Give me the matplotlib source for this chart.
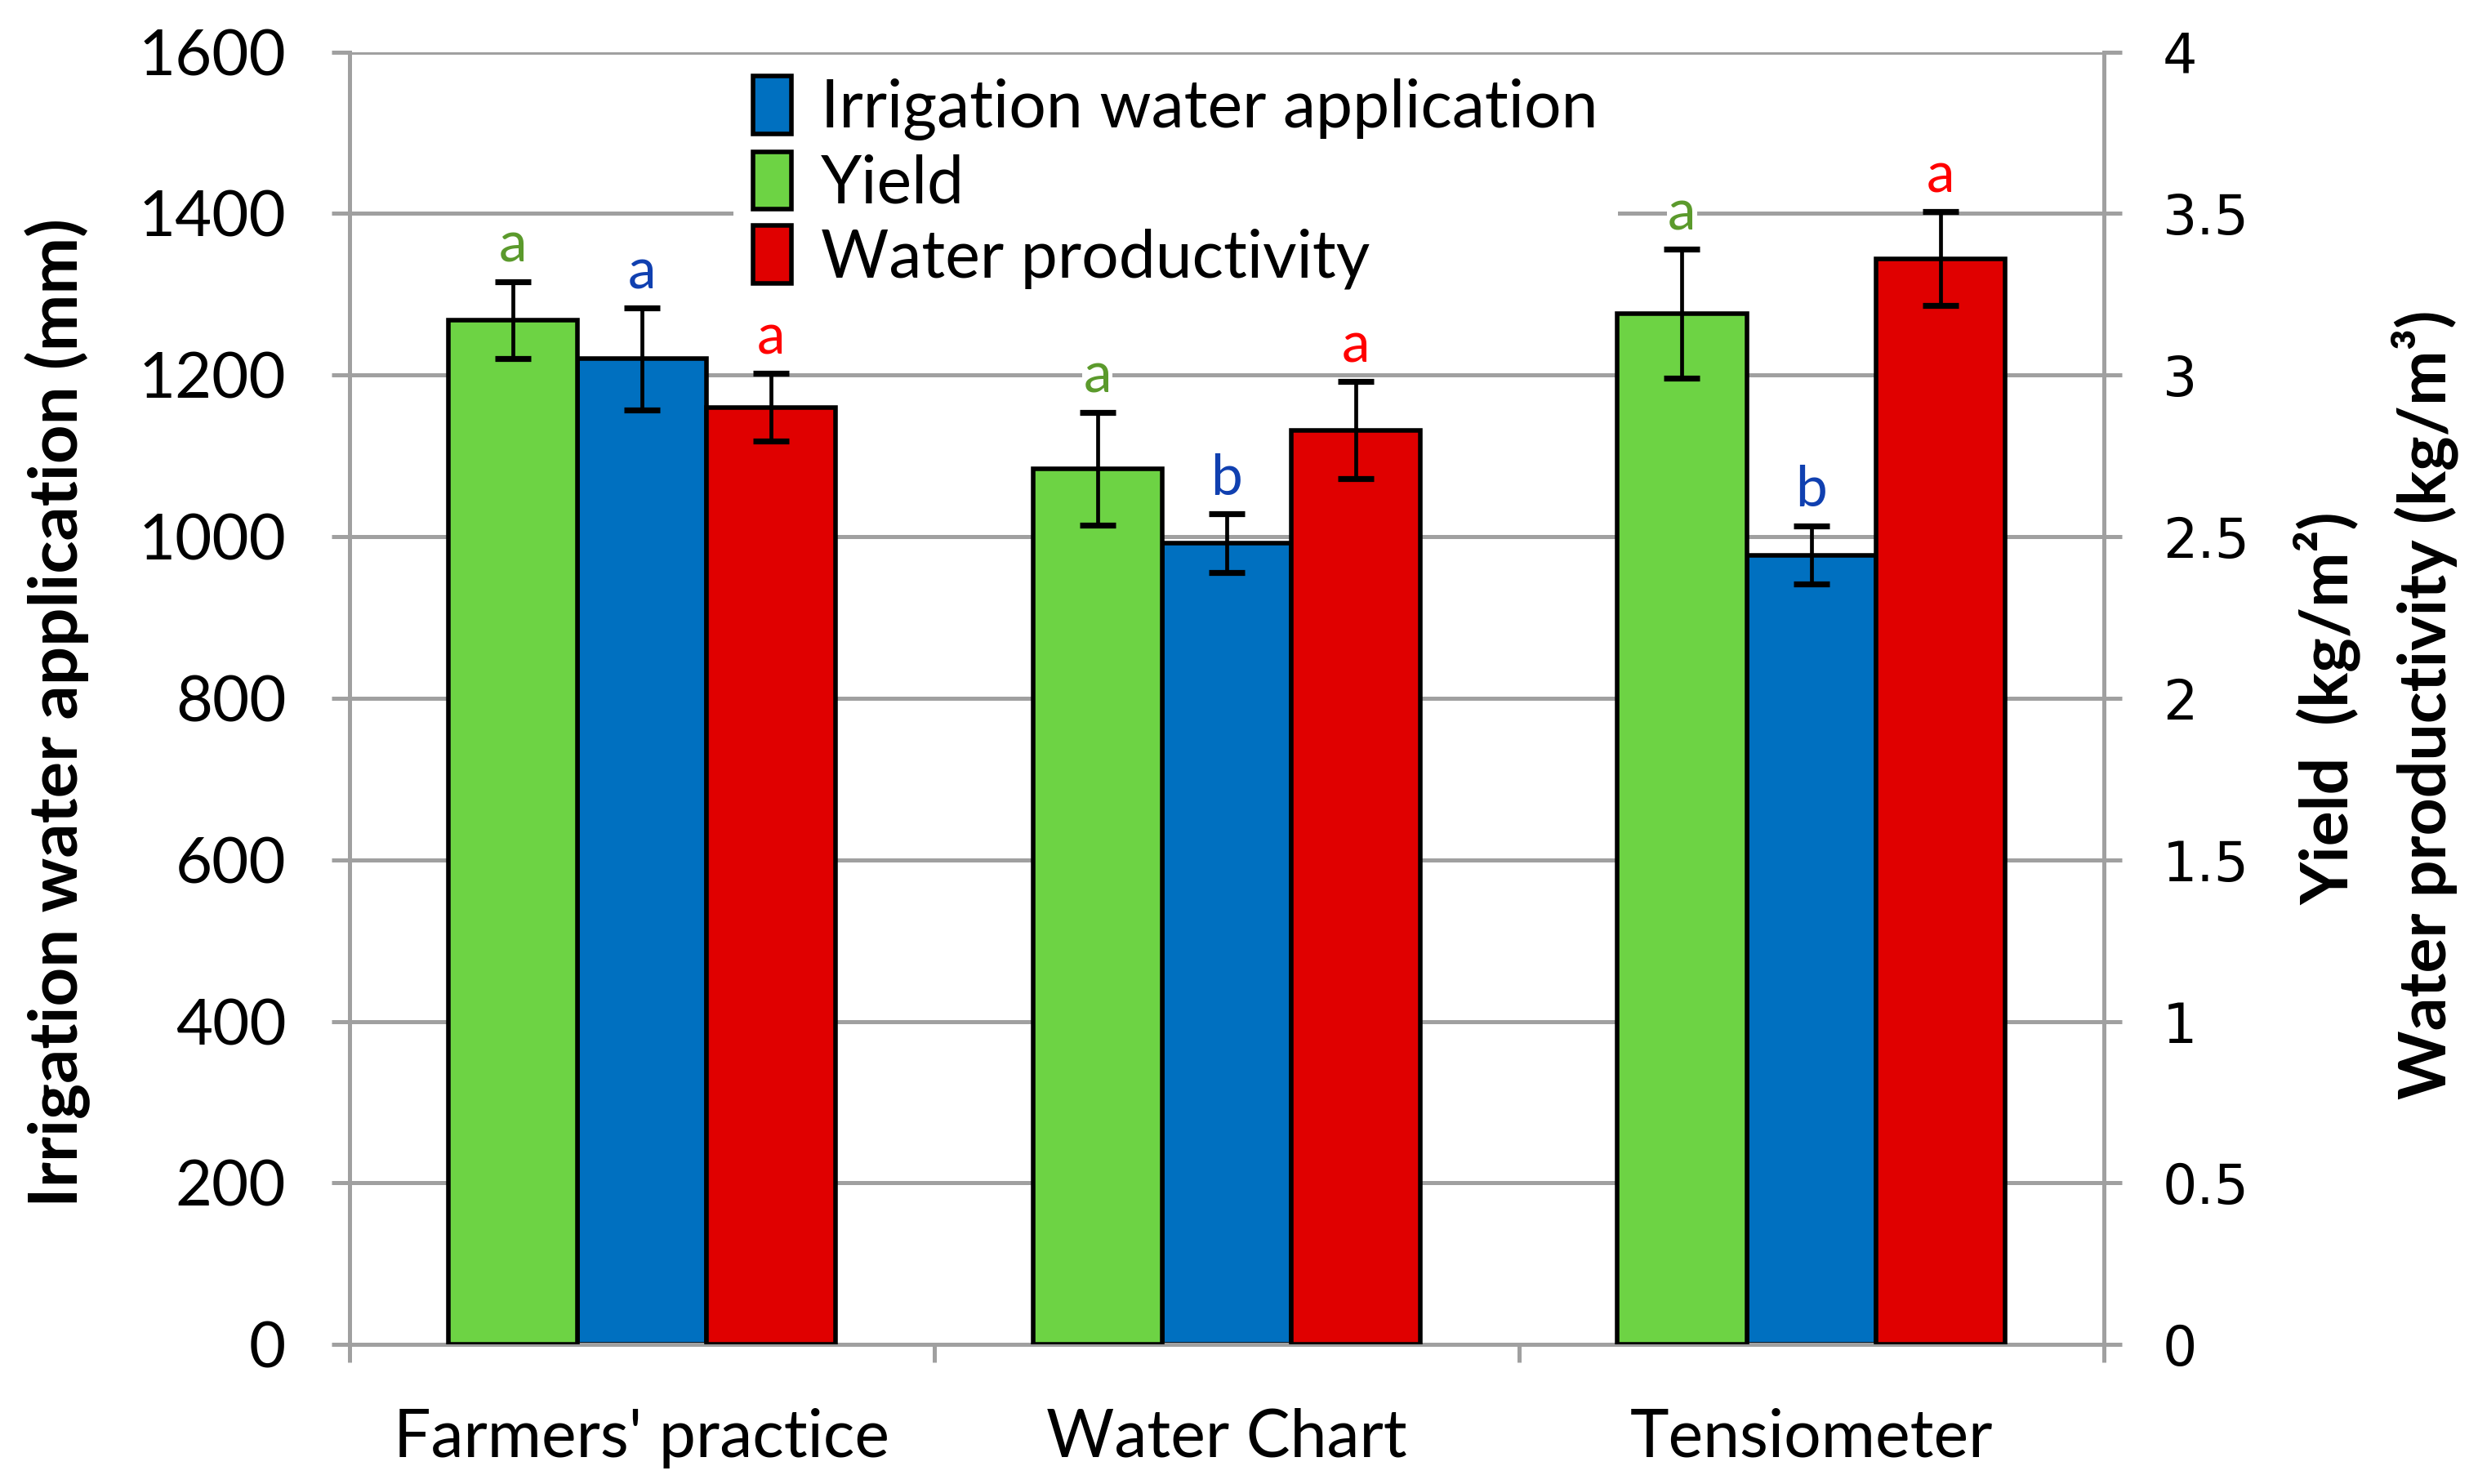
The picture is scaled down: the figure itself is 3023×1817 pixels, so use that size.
import numpy as np
import matplotlib
matplotlib.use("Agg")
import matplotlib.pyplot as plt
from matplotlib.patches import Patch

plt.rcParams['font.family'] = ['Lato', 'DejaVu Sans']

# data
methods = ["Farmers' practice", "Water Chart", "Tensiometer"]
irrigation = [1220, 992, 977]          # mm, left axis
irrigation_err = [63, 36, 36]
yield_kg = [3.17, 2.71, 3.19]          # kg/m2, right axis
yield_err = [0.12, 0.175, 0.20]
wp = [2.90, 2.83, 3.36]                # kg/m3, right axis
wp_err = [0.105, 0.15, 0.145]
irr_letters = ['a', 'b', 'b']
yield_letters = ['a', 'a', 'a']
wp_letters = ['a', 'a', 'a']

c_green, c_blue, c_red = '#6dd344', '#0070c0', '#e00000'
t_green, t_blue, t_red = '#5b9a2c', '#1040b0', '#ff0000'
grey = '#a0a0a0'

fig = plt.figure(figsize=(15.115, 9.085), dpi=200)
ax = fig.add_axes([0.1416, 0.094, 0.7104, 0.871])
ax2 = ax.twinx()

x = np.arange(len(methods))
w = 0.221
ekw = dict(ecolor='black', elinewidth=1.7, capsize=8, capthick=2.6)

ax.bar(x, irrigation, w, color=c_blue, edgecolor='black', linewidth=2.0,
       yerr=irrigation_err, error_kw=ekw, zorder=3)
ax2.bar(x - w, yield_kg, w, color=c_green, edgecolor='black', linewidth=2.0,
        yerr=yield_err, error_kw=ekw, zorder=3)
ax2.bar(x + w, wp, w, color=c_red, edgecolor='black', linewidth=2.0,
        yerr=wp_err, error_kw=ekw, zorder=3)

# significance letters
lkw = dict(fontsize=25, ha='center', va='bottom',
           bbox=dict(fc='white', ec='none', pad=0.5))
for i in range(len(methods)):
    ax2.text(x[i] - w, (yield_kg[i] + yield_err[i]) + 0.03, yield_letters[i],
             color=t_green, **lkw)
    ax2.text(x[i], (irrigation[i] + irrigation_err[i]) / 400 + 0.03, irr_letters[i],
             color=t_blue, **lkw)
    ax2.text(x[i] + w, (wp[i] + wp_err[i]) + 0.03, wp_letters[i],
             color=t_red, **lkw)

ax.set_xlim(-0.5, 2.5)
ax.set_ylim(0, 1600)
ax2.set_ylim(0, 4)
ax.set_yticks(np.arange(0, 1601, 200))
ax2.set_yticks(np.arange(0, 4.01, 0.5))
ax2.set_yticklabels(['0', '0.5', '1', '1.5', '2', '2.5', '3', '3.5', '4'],
                    family='DejaVu Sans', fontsize=24)

ax.yaxis.grid(True, color=grey, linewidth=1.8)
ax.set_axisbelow(True)

ax.set_xticks(x)
ax.set_xticklabels(methods, fontsize=29)
ax.set_xticks([-0.5, 0.5, 1.5, 2.5], minor=True)
ax.tick_params(axis='x', which='major', length=0, pad=28)
ax.tick_params(axis='x', which='minor', length=8, width=1.8, color=grey)
ax.tick_params(axis='y', labelsize=28, length=8, width=1.8, color=grey, pad=20)
ax2.tick_params(axis='y', length=8, width=1.8, color=grey, pad=18)

for a in (ax, ax2):
    a.spines['top'].set_visible(False)
    for s in ('left', 'right', 'bottom'):
        a.spines[s].set_color(grey)
        a.spines[s].set_linewidth(1.8)

fig.text(0.0235, 0.52, 'Irrigation water application (mm)', rotation=90,
         fontsize=30, fontweight='bold', ha='center', va='center')
fig.text(0.9425, 0.523, 'Yield  (kg/m²)', rotation=90, fontsize=29,
         fontweight='bold', ha='center', va='center')
fig.text(0.982, 0.525, 'Water productivity (kg/m³)', rotation=90, fontsize=29,
         fontweight='bold', ha='center', va='center')

handles = [Patch(fc=c_blue, ec='black', lw=2.0),
           Patch(fc=c_green, ec='black', lw=2.0),
           Patch(fc=c_red, ec='black', lw=2.0)]
leg = ax2.legend(handles, ['Irrigation water application', 'Yield',
                           'Water productivity'],
                 loc='upper left', bbox_to_anchor=(0.2, 1.022), fontsize=29,
                 frameon=True, framealpha=1, edgecolor='none', fancybox=False,
                 handlelength=0.58, handleheight=0.97, handletextpad=0.45,
                 labelspacing=0.17, borderpad=0.3)
leg.set_zorder(10)

fig.savefig('out.png', dpi=200)
